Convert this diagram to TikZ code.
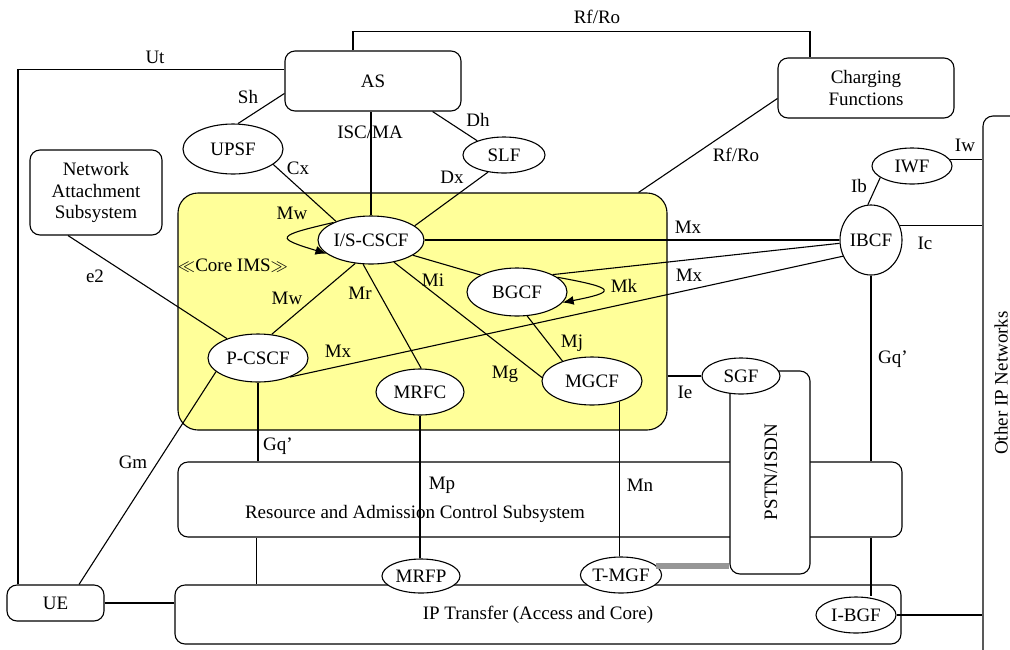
\documentclass[tikz,border=0pt]{standalone}
\usepackage{fontspec}
\setmainfont{Liberation Serif}
\usetikzlibrary{shapes.geometric,arrows.meta,calc}
\definecolor{coreyellow}{RGB}{255,255,153}
\definecolor{tgray}{RGB}{150,150,150}
\begin{document}
\begin{tikzpicture}[x=1pt,y=-1pt,
  every node/.style={font=\fontsize{19}{21.5}\selectfont},
  conn/.style={line width=1.1pt},
  box/.style={draw,line width=1.1pt,rounded corners=10pt,fill=white,inner sep=0pt},
  ell/.style={draw,ellipse,line width=1.1pt,fill=white,inner sep=0pt},
  lbl/.style={inner sep=0pt},
  tip/.style={-{Latex[length=11pt,width=9pt]}}]
\useasboundingbox (0,0) rectangle (1010,649);
% containers
\node[box,fill=coreyellow,minimum width=489pt,minimum height=237pt,rounded corners=20pt] (core) at (422.5,311.5) {};
\node[box,minimum width=724pt,minimum height=75pt] (racs) at (540,499.5) {};
\node[box,minimum width=726pt,minimum height=59pt] (ip) at (538,614.5) {IP Transfer (Access and Core)};
\node[box,minimum width=80pt,minimum height=203pt] (pstn) at (770,472.5) {};
\node[lbl,rotate=90] (pstnt) at (771,472) {PSTN/ISDN};
\node[ell,minimum width=78pt,minimum height=36pt] (sgf) at (741,376) {SGF};
\node[box,minimum width=176pt,minimum height=60pt] (as) at (373,81) {AS};
\node[box,minimum width=176pt,minimum height=60pt,align=center] (cf) at (866,88) {Charging\\Functions};
\node[box,minimum width=132pt,minimum height=85pt,align=center] (nas) at (96,192.5) {Network\\Attachment\\Subsystem};
\node[box,minimum width=97pt,minimum height=36pt] (ue) at (55.5,603) {UE};
\node[box,minimum width=62pt,minimum height=564pt] (oip) at (1014,398) {};
\node[lbl,rotate=90] (oipt) at (1001,383) {Other IP Networks};
\node[lbl] (racst) at (415,514) {Resource and Admission Control Subsystem};
\node[lbl] (coret) at (233,266) {$\ll$Core IMS$\gg$};
% functions
\node[ell,minimum width=100pt,minimum height=50pt] (upsf) at (233,149) {UPSF};
\node[ell,minimum width=82pt,minimum height=36pt] (slf) at (504,155) {SLF};
\node[ell,minimum width=80pt,minimum height=36pt] (iwf) at (912,166) {IWF};
\node[ell,minimum width=62pt,minimum height=70pt] (ibcf) at (871,240) {IBCF};
\node[ell,minimum width=100pt,minimum height=48pt] (iscscf) at (371,240) {I/S-CSCF};
\node[ell,minimum width=100pt,minimum height=48pt] (pcscf) at (258,358) {P-CSCF};
\node[ell,minimum width=100pt,minimum height=48pt] (bgcf) at (517,292) {BGCF};
\node[ell,minimum width=88pt,minimum height=46pt] (mrfc) at (420,392) {MRFC};
\node[ell,minimum width=100pt,minimum height=48pt] (mgcf) at (592,381) {MGCF};
\node[ell,minimum width=78pt,minimum height=34pt] (mrfp) at (421,576) {MRFP};
\node[ell,minimum width=80pt,minimum height=36pt] (tmgf) at (621,575) {T-MGF};
\node[ell,minimum width=80pt,minimum height=36pt] (ibgf) at (856,615) {I-BGF};
% connectors
\draw[conn] ([xshift=-20pt]as.north) -- ++(0,-19) -| ([xshift=-56pt]cf.north);
\draw[conn] ([yshift=-19pt]as.north west) -| ([xshift=-37.5pt]ue.north);
\draw[conn] ([yshift=-43pt]as.north west) -- (upsf.79);
\draw[conn] (upsf.-21) -- (iscscf.152);
\draw[conn] (iscscf.north) -- (iscscf.north |- as.south);
\draw[conn] ([xshift=-29pt]as.south east) -- (slf.152);
\draw[conn] (slf.227) -- (iscscf.18);
\draw[conn] ([yshift=-41pt]cf.north west) -- ([xshift=-29pt]core.north east);
\draw[conn] (iwf.9) -- (iwf.9 -| oip.west);
\draw[conn] (iwf.200) -- (ibcf.95);
\draw[conn] (ibcf.26) -- (ibcf.26 -| oip.west);
\draw[conn] (iscscf.east) -- (ibcf.west);
\draw[conn] (bgcf.26) -- (ibcf.186);
\draw[conn] (pcscf.-31) -- (ibcf.210);
\draw[conn,tip] (iscscf.155) .. controls (275,236) and (275,238) .. (iscscf.197);
\draw[conn,tip] (bgcf.20) .. controls (617,288) and (617,292) .. (bgcf.-13);
\draw[conn] ([xshift=-28pt]nas.south) -- (pcscf.148);
\draw[conn] (pcscf.60) -- (iscscf.236);
\draw[conn] (pcscf.198) -- ([xshift=23.5pt]ue.north);
\draw[conn] (pcscf.south) -- (pcscf.south |- racs.north);
\coordinate (r1) at ([xshift=79pt]racs.south west);
\draw[conn] (r1) -- (r1 |- ip.north);
\draw[conn] (iscscf.252) -- (mrfc.87);
\draw[conn] (iscscf.-20) -- (bgcf.155);
\draw[conn] (iscscf.-44) -- (mgcf.176);
\draw[conn] (bgcf.-67) -- (mgcf.146);
\draw[conn] (mrfc.south) -- (mrfc.south |- mrfp.north);
\draw[conn] (mgcf.-37) -- (mgcf.-37 |- tmgf.north);
\draw[conn] (sgf.west -| core.east) -- (sgf.west);
\draw[conn] (ibcf.south) -- (ibcf.south |- racs.north);
\draw[conn] (ibcf.south |- racs.south) -- (ibcf.south |- ibgf.north);
\draw[line width=6pt,tgray] (tmgf.15) -- (tmgf.15 -| pstn.west);
\draw[conn] (ue.east) -- (ue.east -| ip.west);
\draw[conn] (ibgf.east) -- (ibgf.east -| oip.west);
% labels
\node[lbl] at (597,17) {Rf/Ro};
\node[lbl] at (155,57) {Ut};
\node[lbl] at (248,97) {Sh};
\node[lbl] at (478,120) {Dh};
\node[lbl] at (370,132) {ISC/MA};
\node[lbl] at (736,155) {Rf/Ro};
\node[lbl] at (298,168) {Cx};
\node[lbl] at (452,177) {Dx};
\node[lbl] at (965,145) {Iw};
\node[lbl] at (859,186) {Ib};
\node[lbl] at (292,213) {Mw};
\node[lbl] at (688,227) {Mx};
\node[lbl] at (925,243) {Ic};
\node[lbl] at (95,276) {e2};
\node[lbl] at (433,280) {Mi};
\node[lbl] at (624,286) {Mk};
\node[lbl] at (689,275) {Mx};
\node[lbl] at (287,298) {Mw};
\node[lbl] at (360,293) {Mr};
\node[lbl] at (572,343) {Mj};
\node[lbl] at (338,351) {Mx};
\node[lbl] at (893,359) {Gq'};
\node[lbl] at (505,374) {Mg};
\node[lbl] at (685,392) {Ie};
\node[lbl] at (133,462) {Gm};
\node[lbl] at (278,446) {Gq'};
\node[lbl] at (442,485) {Mp};
\node[lbl] at (640,485) {Mn};
\end{tikzpicture}
\end{document}
